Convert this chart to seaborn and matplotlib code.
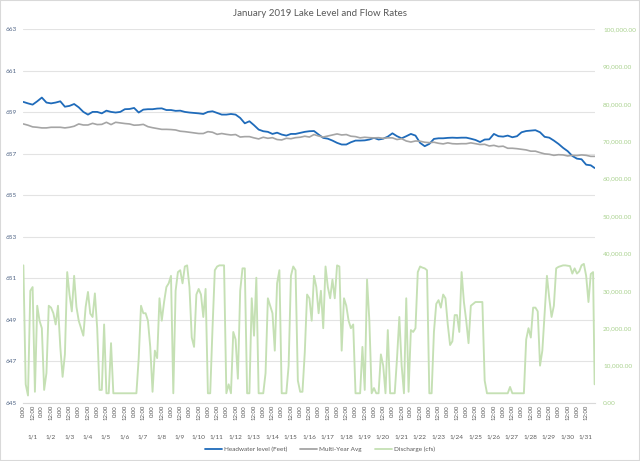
import numpy as np
import pandas as pd
import matplotlib
matplotlib.use("Agg")
import matplotlib.pyplot as plt
import seaborn as sns
from matplotlib.ticker import FuncFormatter
from matplotlib.patches import Rectangle

sns.set_style("white")
plt.rcParams['font.family'] = ['Lato', 'DejaVu Sans']

title = "January 2019 Lake Level and Flow Rates"
days = [f"1/{d}" for d in range(1, 32)]
hour_labels = ["0:00", "12:00"]

# lake level (feet), read every 6 hours + last hour of the month
headwater = [
    659.49, 659.42, 659.36, 659.52, 659.70, 659.46, 659.42, 659.46, 659.52, 659.26,
    659.30, 659.39, 659.23, 659.01, 658.88, 659.01, 659.01, 658.94, 659.07, 659.01,
    658.98, 659.01, 659.14, 659.15, 659.20, 658.98, 659.12, 659.14, 659.14, 659.17,
    659.18, 659.10, 659.10, 659.06, 659.07, 659.01, 658.98, 658.96, 658.94, 658.91,
    659.01, 659.04, 658.96,
    658.88, 658.88, 658.91, 658.88, 658.72, 658.46, 658.56, 658.37, 658.16, 658.08,
    658.05, 657.95, 658.01, 657.92, 657.87, 657.95, 657.95, 658.00, 658.05, 658.08,
    658.09, 657.92, 657.76, 657.72, 657.63, 657.52, 657.44, 657.44, 657.55, 657.63,
    657.63, 657.64, 657.68, 657.76, 657.68, 657.72, 657.82, 657.98, 657.84, 657.74,
    657.84,
    657.95, 657.87, 657.52, 657.36, 657.47, 657.71, 657.74, 657.74, 657.76, 657.77,
    657.76, 657.77, 657.77, 657.72, 657.66, 657.56, 657.68, 657.69, 657.95, 657.84,
    657.82, 657.87, 657.79, 657.84, 658.03, 658.09, 658.11, 658.13, 658.03, 657.81,
    657.77, 657.63, 657.47, 657.28, 657.12, 656.89, 656.76, 656.73, 656.47, 656.44,
    656.31,
]

multi_year_avg = [
    658.43, 658.37, 658.29, 658.27, 658.24, 658.24, 658.27, 658.27, 658.27, 658.24,
    658.27, 658.32, 658.43, 658.38, 658.38, 658.46, 658.40, 658.41, 658.51, 658.40,
    658.51, 658.48, 658.45, 658.43, 658.37, 658.38, 658.41, 658.30, 658.25, 658.21,
    658.17, 658.17, 658.16, 658.14, 658.08, 658.06, 658.03, 658.00, 657.97, 657.97,
    658.06, 658.03, 657.93,
    657.97, 657.93, 657.90, 657.92, 657.80, 657.82, 657.82, 657.76, 657.71, 657.79,
    657.74, 657.77, 657.68, 657.66, 657.74, 657.72, 657.77, 657.79, 657.84, 657.80,
    657.92, 657.85, 657.80, 657.85, 657.90, 657.95, 657.90, 657.92, 657.84, 657.82,
    657.76, 657.79, 657.77, 657.76, 657.77, 657.74, 657.76, 657.76, 657.68, 657.72,
    657.61,
    657.56, 657.61, 657.60, 657.55, 657.53, 657.55, 657.50, 657.47, 657.52, 657.48,
    657.47, 657.48, 657.48, 657.52, 657.48, 657.44, 657.45, 657.37, 657.40, 657.34,
    657.36, 657.26, 657.26, 657.24, 657.21, 657.18, 657.12, 657.12, 657.05, 656.99,
    656.97, 656.92, 656.95, 656.94, 656.89, 656.92, 656.91, 656.94, 656.92, 656.87,
    656.87,
]

# discharge (cfs), read every 3 hours + last hour of the month
discharge = [
    36800, 5000, 2000, 30000, 31000, 3000, 26000, 22000,      # 1/1
    20000, 3500, 8000, 26000, 25500, 24000, 21000, 26000,     # 1/2
    15000, 7000, 13000, 35000, 29000, 24500, 34000, 25700,    # 1/3
    22000, 20000, 18000, 25700, 29700, 23900, 23000, 29300,   # 1/4
    20000, 3500, 3500, 21000, 2600, 2600, 16000, 2600,        # 1/5
    2600, 2600, 2600, 2600, 2600, 2600, 2600, 2600,           # 1/6
    2600, 2600, 12000, 26000, 24000, 24000, 22000, 15000,     # 1/7
    3000, 14000, 12000, 28000, 22000, 27000, 31000, 32000,    # 1/8
    34000, 2600, 30000, 35000, 35500, 32000, 36500, 36800,    # 1/9
    31000, 17500, 15000, 29000, 30500, 29000, 23000, 30500,   # 1/10
    2600, 2600, 20000, 35500, 36500, 36800, 36800, 36800,     # 1/11
    2600, 5000, 2600, 19000, 17000, 6500, 30000, 36000,       # 1/12
    36000, 2600, 2600, 28000, 18000, 33500, 2600, 2600,       # 1/13
    2600, 8000, 28000, 26000, 24000, 14000, 32000, 35500,     # 1/14
    2600, 2600, 2600, 10000, 34000, 36500, 35500, 6000,       # 1/15
    3000, 3000, 13500, 29000, 28000, 22000, 34000, 31000,     # 1/16
    24000, 30000, 20000, 36500, 31000, 28000, 33000, 28000,   # 1/17
    36800, 36500, 14000, 28000, 26000, 22000, 20000, 21000,   # 1/18
    2600, 2600, 2600, 15000, 3500, 33000, 22000, 2600,        # 1/19
    4000, 2600, 2600, 13000, 10000, 2600, 19500, 2600,        # 1/20
    2600, 2600, 12000, 23000, 10000, 2600, 28000, 3000,       # 1/21
    19500, 19000, 20000, 35000, 36500, 36200, 36000, 35500,   # 1/22
    2600, 2600, 19000, 26500, 27500, 25500, 29000, 28000,     # 1/23
    21000, 15500, 16500, 23500, 23500, 19000, 35000, 27000,   # 1/24
    22000, 16000, 26000, 26500, 27000, 27000, 27000, 27000,   # 1/25
    6000, 2600, 2600, 2600, 2600, 2600, 2600, 2600,           # 1/26
    2600, 2600, 2600, 4300, 2600, 2600, 2600, 2600,           # 1/27
    2600, 2600, 17000, 20000, 17500, 25500, 25500, 24500,     # 1/28
    10000, 14000, 24000, 34000, 28000, 23000, 26000, 36000,   # 1/29
    36400, 36600, 36800, 36800, 36700, 36600, 34600, 36000,   # 1/30
    34600, 35200, 36800, 37200, 34000, 27000, 34500, 35000,   # 1/31
    5000,
]

hw_hours = [6 * i for i in range(len(headwater) - 1)] + [743]
q_hours = [3 * i for i in range(len(discharge) - 1)] + [743]

levels = pd.DataFrame({'hour': hw_hours,
                       'Headwater level (Feet)': headwater,
                       'Multi-Year Avg': multi_year_avg})
flow = pd.DataFrame({'hour': q_hours, 'Discharge (cfs)': discharge})

blue = '#1F6BBA'
grey = '#A5A5A5'
green = '#C5E0B4'
text_grey = '#595959'

fig = plt.figure(figsize=(6.4, 4.61), dpi=100)
ax = fig.add_axes([23 / 640, 1 - 403 / 461, 572 / 640, 374 / 461])
ax2 = ax.twinx()

sns.lineplot(data=levels, x='hour', y='Headwater level (Feet)', ax=ax, color=blue,
             linewidth=1.3, label='Headwater level (Feet)', legend=False)
sns.lineplot(data=levels, x='hour', y='Multi-Year Avg', ax=ax, color=grey,
             linewidth=1.2, label='Multi-Year Avg', legend=False)
sns.lineplot(data=flow, x='hour', y='Discharge (cfs)', ax=ax2, color=green,
             linewidth=1.35, label='Discharge (cfs)', legend=False)

for a in (ax, ax2):
    a.set_xlabel('')
    a.set_ylabel('')
    for s in a.spines.values():
        s.set_visible(False)
    if a.get_legend():
        a.get_legend().remove()

ax.spines['bottom'].set_visible(True)
ax.spines['bottom'].set_color('#D9D9D9')
ax.spines['bottom'].set_linewidth(0.8)

ax.set_ylim(645, 663)
ax.set_yticks(range(645, 664, 2))
ax.grid(axis='y', color='#E3E3E3', linewidth=0.8)
ax.set_axisbelow(True)
ax.tick_params(axis='y', length=0, labelsize=4.6, labelcolor='#4F6485', pad=4.3)

ax2.set_ylim(0, 100000)
ax2.set_yticks(range(0, 100001, 10000))
ax2.yaxis.set_major_formatter(FuncFormatter(lambda v, p: f"{v:,.2f}"))
ax2.tick_params(axis='y', length=0, labelsize=4.6, labelcolor='#A9D18E', pad=5.8)

# hour ticks (every 12 h) and day separators
ax.set_xticks(range(0, 744, 12))
ax.set_xticklabels([hour_labels[i % 2] for i in range(62)], rotation=90)
ax.set_xticks([24 * k - 0.5 for k in range(32)], minor=True)
ax.tick_params(axis='x', which='major', length=0, labelsize=4.3, labelcolor=text_grey, pad=1.5)
ax.tick_params(axis='x', which='minor', length=25, width=0.6, color='#D9D9D9', direction='out')
for k, d in enumerate(days):
    ax.text(24 * k + 11.5, -0.091, d, transform=ax.get_xaxis_transform(),
            ha='center', va='center', fontsize=4.6, color=text_grey)
ax.set_xlim(-0.5, 743.5)

fig.text(0.5, 1 - 13.5 / 461, title, ha='center', va='center', fontsize=7, color=text_grey)

h1, l1 = ax.get_legend_handles_labels()
h2, l2 = ax2.get_legend_handles_labels()
leg = fig.legend(h1 + h2, l1 + l2, loc='center', bbox_to_anchor=(0.5, 1 - 449 / 461),
                 ncol=3, frameon=False, fontsize=4.6, handlelength=2.7,
                 handletextpad=0.3, columnspacing=2.0)
for t in leg.get_texts():
    t.set_color(text_grey)
for line in leg.get_lines():
    line.set_linewidth(1.3)

fig.patches.append(Rectangle((0, 0), 1, 1, transform=fig.transFigure, fill=False,
                             edgecolor='#D9D9D9', linewidth=1.5))

fig.savefig('out.png', dpi=100)
